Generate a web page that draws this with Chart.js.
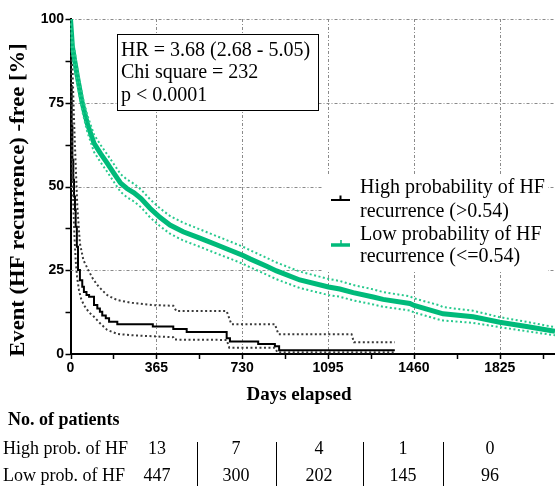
<!DOCTYPE html>
<html><head><meta charset="utf-8">
<script src="https://cdn.jsdelivr.net/npm/chart.js@4.4.1/dist/chart.umd.min.js"></script>
<style>html,body{margin:0;padding:0;background:#fff;}canvas{display:block;}</style>
</head><body>
<canvas id="c" width="555" height="487" style="width:555px;height:487px"></canvas>
<script>
// ---- data ----
const xTicks = [0, 365, 730, 1095, 1460, 1825];
const yTicks = [0, 25, 50, 75, 100];

const lowDays  = [0,8,18,29,50,71,100,128,156,184,213,240,270,300,338,380,423,479,550,621,692,734,763,834,876,975,1097,1145,1202,1287,1329,1443,1461,1570,1584,1712,1825,1939,2060];
const lowSurv  = [100,91.8,87.5,82.9,74.9,68.9,62.9,59.8,57,54,51,49.4,48.1,46.4,43.5,40.8,38.5,36.5,34.6,32.6,30.6,29.4,28.4,26.2,24.8,22.1,20.0,19.4,18.3,17.0,16.3,15.1,14.5,12.3,12.0,11.1,9.5,8.2,6.8];
const lowUpper = [100,93.5,90.2,85.0,77.2,71.4,65.5,62.4,59.6,56.7,53.7,52.1,50.8,49.1,46.2,43.5,41.2,39.2,37.2,35.2,33.2,32.0,31.0,28.7,27.3,24.6,22.4,21.8,20.6,19.3,18.5,17.2,16.6,14.5,14.0,12.9,11.0,9.6,8.0];
const lowLower = [100,90.0,84.8,80.7,72.5,66.4,60.3,57.2,54.4,51.4,48.4,46.8,45.5,43.8,40.8,38.2,35.9,33.9,32.0,30.0,28.1,26.9,25.9,23.7,22.3,19.7,17.6,17.1,16.0,14.8,14.1,13.0,12.4,10.2,10.0,9.3,8.0,6.8,5.6];

const highDays = [0,2,5,8,12,15,19,22,27,32,40,50,57,68,79,100,114,125,135,150,164,199,350,437,494,664,678,798,869,887,1195,1379];
const highSurv = [100,90,80,68,58,52,47,43,38,32,25.1,22,20.1,18.5,17.6,17.1,14.6,13.6,12.6,11.5,10.7,9.65,8.9,8.2,7.5,6.6,4.7,3.7,3.0,2.3,1.1,1.1];

const highUpperDays = [0,4,9,14,19,24,29,40,55,79,95,114,135,156,180,199,256,348,437,450,664,684,869,884,1195,1205,1379];
const highUpper     = [100,94,84,72,62,53,44,33,28,24.6,22.5,20.6,19.0,17.6,16.7,16.1,15.3,14.6,14.4,12.8,12.8,8.9,8.9,5.9,5.9,3.5,3.5];
const highLowerDays = [0,2,5,8,12,17,22,28,36,45,57,78,100,128,156,199,260,348,437,442,664,675,869,880,1379];
const highLower     = [100,85,70,55,44,35,28,23,19.1,16.5,14.6,12.5,11.1,9.0,7.2,6.0,5.6,5.3,5.0,4.3,4.2,1.9,1.9,0.5,0.5];

const riskTitle = 'No. of patients';
const riskGroups = ['High prob. of HF', 'Low prob. of HF'];
const riskHigh = [13, 7, 4, 1, 0];
const riskLow  = [447, 300, 202, 145, 96];

const statsLines = ['HR = 3.68 (2.68 - 5.05)', 'Chi square = 232', 'p < 0.0001'];
const legendLabels = [['High probability of HF', 'recurrence (>0.54)'], ['Low probability of HF', 'recurrence (<=0.54)']];
const xTitle = 'Days elapsed';
const yTitle = 'Event (HF recurrence) -free [%]';

// ---- styling ----
const GREEN = 'rgb(0,186,122)';
const GREEN_CI = 'rgb(40,202,142)';
const SERIF = '"Liberation Serif", "Times New Roman", serif';
const SANS = '"Liberation Sans", Arial, sans-serif';

const pts = (xs, ys) => xs.map((d, i) => ({x: d, y: ys[i]}));

const custom = {
  id: 'custom',
  beforeDatasetsDraw(chart) {
    const {ctx, chartArea: a, scales: {x, y}} = chart;
    ctx.save();
    ctx.strokeStyle = '#8a8a8a';
    ctx.lineWidth = 1;
    ctx.setLineDash([3, 2, 1, 2]);
    xTicks.forEach(v => {
      if (v === 0) return;
      const px = Math.round(x.getPixelForValue(v)) + 0.5;
      ctx.beginPath(); ctx.moveTo(px, a.top); ctx.lineTo(px, a.bottom); ctx.stroke();
    });
    yTicks.forEach(v => {
      if (v === 0) return;
      const py = Math.round(y.getPixelForValue(v)) + 0.5;
      ctx.beginPath(); ctx.moveTo(a.left, py); ctx.lineTo(a.right, py); ctx.stroke();
    });
    ctx.restore();
  },
  afterDatasetsDraw(chart) {
    const {ctx} = chart;
    ctx.save();
    // stats box
    ctx.fillStyle = '#fff';
    ctx.fillRect(117.5, 34.5, 201, 76);
    ctx.strokeStyle = '#000'; ctx.lineWidth = 1;
    ctx.strokeRect(117.5, 34.5, 201, 76);
    ctx.fillStyle = '#000';
    ctx.font = '20px ' + SERIF;
    ctx.textAlign = 'left'; ctx.textBaseline = 'middle';
    statsLines.forEach((t, i) => ctx.fillText(t, 121, 51 + i * 22.2));
    // legend
    ctx.fillStyle = '#fff';
    ctx.fillRect(322, 174, 226, 98);
    ctx.lineWidth = 2; ctx.strokeStyle = '#000';
    ctx.beginPath(); ctx.moveTo(331, 200); ctx.lineTo(350, 200); ctx.moveTo(340.5, 195.5); ctx.lineTo(340.5, 200); ctx.stroke();
    ctx.lineWidth = 3.5; ctx.strokeStyle = GREEN;
    ctx.beginPath(); ctx.moveTo(331, 245); ctx.lineTo(350, 245); ctx.stroke();
    ctx.lineWidth = 1.5;
    ctx.beginPath(); ctx.moveTo(341, 240); ctx.lineTo(341, 245); ctx.stroke();
    ctx.fillStyle = '#000';
    ctx.font = '20px ' + SERIF;
    const ly = [188, 211.5, 235, 257];
    ctx.fillText(legendLabels[0][0], 360, ly[0]);
    ctx.fillText(legendLabels[0][1], 360, ly[1]);
    ctx.fillText(legendLabels[1][0], 360, ly[2]);
    ctx.fillText(legendLabels[1][1], 360, ly[3]);
    ctx.restore();
  },
  afterDraw(chart) {
    const {ctx, chartArea: a, scales: {x, y}} = chart;
    ctx.save();
    // tick marks (major + minor)
    ctx.strokeStyle = '#000'; ctx.lineWidth = 1.5;
    for (let v = 0; v <= 100; v += 12.5) {
      const py = Math.round(y.getPixelForValue(v)) + 0.5;
      ctx.beginPath(); ctx.moveTo(a.left - 5, py); ctx.lineTo(a.left, py); ctx.stroke();
    }
    for (let v = 0; v <= 2060; v += 182.5) {
      const px = Math.round(x.getPixelForValue(v)) + 0.5;
      ctx.beginPath(); ctx.moveTo(px, a.bottom); ctx.lineTo(px, a.bottom + 5); ctx.stroke();
    }
    // axis titles
    ctx.fillStyle = '#000';
    ctx.font = 'bold 19px ' + SERIF;
    ctx.textAlign = 'center'; ctx.textBaseline = 'middle';
    ctx.fillText(xTitle, 299, 395);
    ctx.save();
    ctx.translate(19, 200);
    ctx.rotate(-Math.PI / 2);
    ctx.scale(1.08, 1);
    ctx.font = 'bold 21px ' + SERIF;
    ctx.fillText(yTitle, 0, 0);
    ctx.restore();
    // number-at-risk table
    ctx.textAlign = 'left';
    ctx.font = 'bold 18px ' + SERIF;
    ctx.fillText(riskTitle, 8, 420);
    ctx.font = '18px ' + SERIF;
    const rowY = [449.5, 476];
    ctx.fillText(riskGroups[0], 3, rowY[0]);
    ctx.fillText(riskGroups[1], 3, rowY[1]);
    const colX = [157, 236, 319, 403, 490];
    ctx.textAlign = 'center';
    riskHigh.forEach((n, i) => ctx.fillText(String(n), colX[i], rowY[0]));
    riskLow.forEach((n, i) => ctx.fillText(String(n), colX[i], rowY[1]));
    ctx.strokeStyle = '#000'; ctx.lineWidth = 1;
    [197, 276, 363, 443].forEach(sx => {
      ctx.beginPath(); ctx.moveTo(sx + 0.5, 442); ctx.lineTo(sx + 0.5, 486); ctx.stroke();
    });
    ctx.restore();
  }
};

new Chart(document.getElementById('c'), {
  type: 'line',
  data: {
    datasets: [
      {label: 'Low upper', data: pts(lowDays, lowUpper), borderColor: GREEN_CI, borderWidth: 2, borderDash: [2, 2.5], pointRadius: 0, tension: 0},
      {label: 'Low lower', data: pts(lowDays, lowLower), borderColor: GREEN_CI, borderWidth: 2, borderDash: [2, 2.5], pointRadius: 0, tension: 0},
      {label: 'Low probability of HF recurrence (<=0.54)', data: pts(lowDays, lowSurv), borderColor: GREEN, borderWidth: 5, pointRadius: 0, tension: 0},
      {label: 'High upper', data: pts(highUpperDays, highUpper), borderColor: '#3a3a3a', borderWidth: 2, borderDash: [2, 2.5], pointRadius: 0, tension: 0},
      {label: 'High lower', data: pts(highLowerDays, highLower), borderColor: '#3a3a3a', borderWidth: 2, borderDash: [2, 2.5], pointRadius: 0, tension: 0},
      {label: 'High probability of HF recurrence (>0.54)', data: pts(highDays, highSurv), borderColor: '#000', borderWidth: 2, stepped: 'after', pointRadius: 0}
    ]
  },
  options: {
    responsive: false,
    devicePixelRatio: 1,
    animation: false,
    layout: {padding: {top: 19, right: 0, left: 0, bottom: 0}},
    plugins: {legend: {display: false}, tooltip: {enabled: false}},
    scales: {
      x: {
        type: 'linear', min: 0, max: 2060,
        grid: {display: false, drawTicks: false},
        border: {display: true, color: '#000', width: 2},
        afterBuildTicks: s => { s.ticks = xTicks.map(v => ({value: v})); },
        afterFit: s => { s.height = 133; },
        ticks: {autoSkip: false, maxRotation: 0, padding: 6, color: '#000', font: {family: SANS, size: 14, weight: 'bold'}, callback: v => String(v)}
      },
      y: {
        type: 'linear', min: 0, max: 100,
        grid: {display: false, drawTicks: false},
        border: {display: true, color: '#000', width: 2},
        afterBuildTicks: s => { s.ticks = yTicks.map(v => ({value: v})); },
        afterFit: s => { s.width = 70.5; },
        ticks: {padding: 6.5, color: '#000', font: {family: SANS, size: 14, weight: 'bold'}, callback: v => String(v)}
      }
    }
  },
  plugins: [custom]
});
</script>
</body></html>
